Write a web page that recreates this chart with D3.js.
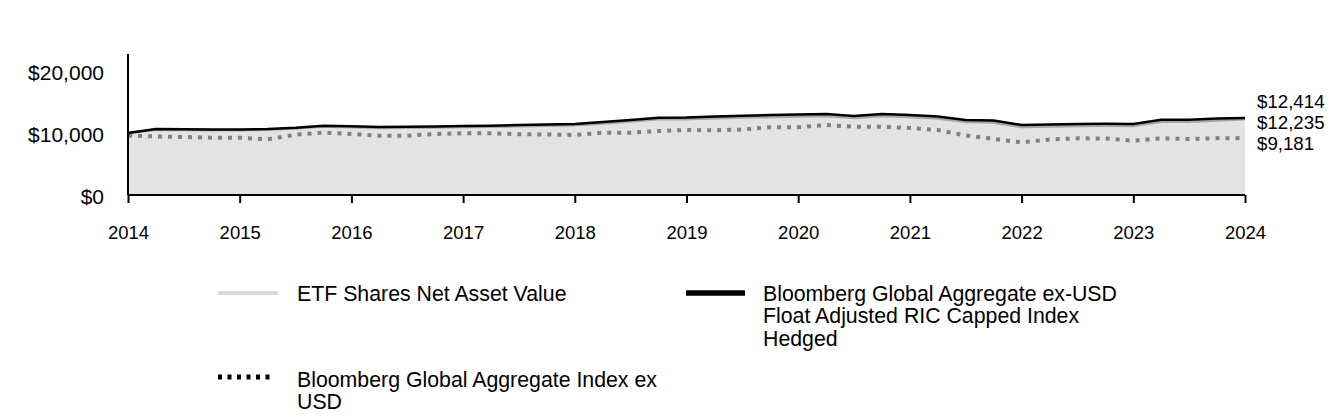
<!DOCTYPE html>
<html>
<head>
<meta charset="utf-8">
<script src="https://cdn.jsdelivr.net/npm/d3@7/dist/d3.min.js"></script>
<style>
  html, body { margin: 0; padding: 0; background: #fff; }
  svg { display: block; font-family: "Liberation Sans", Arial, sans-serif; }
</style>
</head>
<body>
<svg id="chart" width="1344" height="420"></svg>
<script>
// Quarterly dates, 2014 Q0 .. 2024 Q0
const dates = [
  2014.00, 2014.25, 2014.50, 2014.75, 2015.00, 2015.25, 2015.50, 2015.75,
  2016.00, 2016.25, 2016.50, 2016.75, 2017.00, 2017.25, 2017.50, 2017.75,
  2018.00, 2018.25, 2018.50, 2018.75, 2019.00, 2019.25, 2019.50, 2019.75,
  2020.00, 2020.25, 2020.50, 2020.75, 2021.00, 2021.25, 2021.50, 2021.75,
  2022.00, 2022.25, 2022.50, 2022.75, 2023.00, 2023.25, 2023.50, 2023.75,
  2024.00
];
// ETF Shares Net Asset Value
const etfNav = [
  10000, 10540, 10500, 10450, 10450, 10520, 10720, 11030,
  10940, 10810, 10850, 10880, 10950, 10990, 11090, 11150,
  11230, 11540, 11850, 12200, 12220, 12370, 12490, 12590,
  12670, 12740, 12420, 12730, 12570, 12330, 11770, 11680,
  10970, 11060, 11140, 11170, 11140, 11830, 11820, 12030,
  12235
];
// Bloomberg Global Aggregate ex-USD Float Adjusted RIC Capped Index Hedged
const hedgedIndex = [
  10000, 10645, 10610, 10565, 10565, 10645, 10855, 11180,
  11100, 10970, 11015, 11050, 11130, 11180, 11290, 11355,
  11450, 11775, 12100, 12470, 12500, 12660, 12790, 12900,
  12985, 13065, 12740, 13065, 12900, 12660, 12100, 12015,
  11290, 11370, 11450, 11485, 11450, 12145, 12130, 12340,
  12414
];
// Bloomberg Global Aggregate Index ex USD
const unhedgedIndex = [
  9600, 9435, 9355, 9240, 9240, 8985, 9725, 10050,
  9840, 9565, 9565, 9840, 9950, 9950, 9805, 9760,
  9675, 10050, 10050, 10320, 10485, 10435, 10565, 10920,
  10920, 11290, 11015, 11015, 10805, 10485, 9600, 9030,
  8500, 8950, 9145, 9110, 8760, 9145, 9030, 9145,
  9181
];
const yearTicks = [2014, 2015, 2016, 2017, 2018, 2019, 2020, 2021, 2022, 2023, 2024];
const yTicks = [0, 10000, 20000];
const endLabels = ["$12,414", "$12,235", "$9,181"];
const legendNames = [
  ["ETF Shares Net Asset Value"],
  ["Bloomberg Global Aggregate ex-USD", "Float Adjusted RIC Capped Index", "Hedged"],
  ["Bloomberg Global Aggregate Index ex", "USD"]
];

const svg = d3.select("#chart");
const x = d3.scaleLinear().domain([2014, 2024]).range([128, 1245]);
const y = d3.scaleLinear().domain([0, 22742]).range([195, 54]);

const rows = dates.map((d, i) => ({ d, etf: etfNav[i], hed: hedgedIndex[i], unh: unhedgedIndex[i] }));

// area under ETF NAV
svg.append("path")
  .datum(rows)
  .attr("fill", "#e3e3e3")
  .attr("d", d3.area().x(r => x(r.d)).y0(y(0)).y1(r => y(r.etf)));

// ETF line
svg.append("path")
  .datum(rows)
  .attr("fill", "none")
  .attr("stroke", "#a6a6a6")
  .attr("stroke-width", 2.5)
  .attr("d", d3.line().x(r => x(r.d)).y(r => y(r.etf)));

// unhedged dotted
svg.append("path")
  .datum(rows)
  .attr("fill", "none")
  .attr("stroke", "#808080")
  .attr("stroke-width", 4)
  .attr("stroke-dasharray", "4,6")
  .attr("d", d3.line().x(r => x(r.d)).y(r => y(r.unh)));

// hedged black line
svg.append("path")
  .datum(rows)
  .attr("fill", "none")
  .attr("stroke", "#000")
  .attr("stroke-width", 2.5)
  .attr("d", d3.line().x(r => x(r.d)).y(r => y(r.hed)));

// Y axis
const yAxis = svg.append("g").attr("transform", "translate(128,0)")
  .call(d3.axisLeft(y).tickValues(yTicks).tickSize(0).tickPadding(24)
    .tickFormat(v => "$" + d3.format(",")(v)));
yAxis.select(".domain").attr("stroke", "#000").attr("stroke-width", 2)
  .attr("d", "M0," + y(0) + "V" + y.range()[1]);
yAxis.selectAll("text").attr("font-size", 21).attr("fill", "#000")
  .attr("font-family", "Liberation Sans, Arial, sans-serif")
  .attr("y", 1.5);

// X axis
const xAxis = svg.append("g").attr("transform", "translate(0,195)")
  .call(d3.axisBottom(x).tickValues(yearTicks).tickSize(8).tickPadding(23)
    .tickFormat(d3.format("d")));
xAxis.select(".domain").attr("stroke", "#000").attr("stroke-width", 2)
  .attr("d", "M" + x(2014) + ",0H" + x(2024));
xAxis.selectAll(".tick line").attr("stroke", "#000").attr("stroke-width", 2);
xAxis.selectAll("text").attr("font-size", 18.5).attr("fill", "#000")
  .attr("font-family", "Liberation Sans, Arial, sans-serif");

// end labels
const endY = [107.5, 128.5, 150];
svg.append("g").selectAll("text").data(endLabels).join("text")
  .attr("x", 1257).attr("y", (d, i) => endY[i])
  .attr("font-size", 18.7).attr("fill", "#000").text(d => d);

// legend
const leg = svg.append("g").attr("font-size", 21.3).attr("fill", "#000");
const legItems = [
  { x1: 218, x2: 278, y: 293, stroke: "#d9d9d9", w: 4, dash: null, tx: 297, ty: [300.5] },
  { x1: 686, x2: 745, y: 293, stroke: "#000", w: 5.5, dash: null, tx: 763, ty: [300.5, 323, 345.5] },
  { x1: 218, x2: 274, y: 377, stroke: "#000", w: 5, dash: "4,5.5", tx: 297, ty: [387, 408.5] }
];
legItems.forEach((it, i) => {
  leg.append("line").attr("x1", it.x1).attr("x2", it.x2).attr("y1", it.y).attr("y2", it.y)
    .attr("stroke", it.stroke).attr("stroke-width", it.w)
    .attr("stroke-dasharray", it.dash);
  legendNames[i].forEach((t, j) => {
    leg.append("text").attr("x", it.tx).attr("y", it.ty[j]).text(t);
  });
});
</script>
</body>
</html>
